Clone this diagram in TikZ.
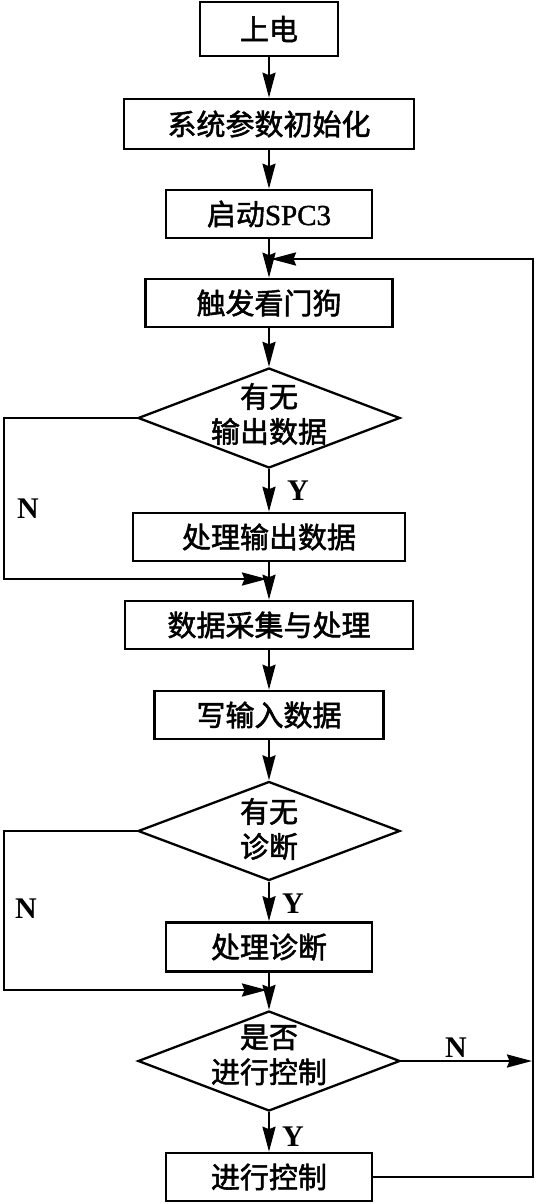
\documentclass[tikz,border=0pt]{standalone}
\usepackage{fontspec}
\setmainfont{Liberation Serif}
\newfontfamily\cjk{Noto Sans CJK SC}[FakeBold=1.8]
\newfontfamily\lat{Liberation Serif}[FakeBold=1.5]
\usetikzlibrary{arrows.meta, positioning, shapes.geometric}

\begin{document}
\begin{tikzpicture}[x=1pt, y=-1pt,
  box/.style={draw, line width=2.6pt, minimum height=48pt, inner sep=0pt, font=\cjk\fontsize{29}{35}\selectfont},
  decision/.style={draw, diamond, line width=2.3pt, inner sep=0pt, minimum width=262pt, minimum height=99pt},
  dtext/.style={align=center, inner sep=0pt, font=\cjk\fontsize{29}{35}\selectfont},
  yn/.style={font=\bfseries\fontsize{30}{30}\selectfont, inner sep=0pt},
  arr/.style={-{Stealth[length=25pt, width=13pt, inset=2.5pt]}, line width=2.3pt}]
  \useasboundingbox (0,0) rectangle (537,1204);

  % Main column of boxes
  \node[box, minimum width=138pt, minimum height=54pt] (pwr) at (269,29) {上电};
  \node[box, minimum width=290pt, minimum height=50pt] (init) at (269,124) {系统参数初始化};
  \node[box, minimum width=206pt] (spc) at (269,214) {启动{\lat SPC3}};
  \node[box, minimum width=247pt] (dog) at (269,303) {触发看门狗};

  \node[decision, minimum height=100pt] (outq) at (269,418) {};
  \node[dtext] (outqt) at (269,414) {有无\\输出数据};
  \node[box, minimum width=272pt] (outp) at (269,537) {处理输出数据};
  \node[box, minimum width=288pt] (acq) at (269,625) {数据采集与处理};
  \node[box, minimum width=229pt] (wr) at (269,715) {写输入数据};

  \node[decision] (diagq) at (269,831) {};
  \node[dtext] (diagqt) at (269,829) {有无\\诊断};
  \node[box, minimum width=206pt, minimum height=49pt] (diagp) at (269,947) {处理诊断};

  \node[decision, minimum height=100pt] (ctlq) at (269,1061) {};
  \node[dtext] (ctlqt) at (269,1055) {是否\\进行控制};
  \node[box, minimum width=206pt] (ctl) at (269,1177) {进行控制};

  % Y / N labels
  \node[yn] (y1) at (298,491) {Y};
  \node[yn] (n1) at (28,509) {N};
  \node[yn] (y2) at (293,904) {Y};
  \node[yn] (n2) at (26,909) {N};
  \node[yn] (n3) at (456,1048) {N};
  \node[yn] (y3) at (293,1137) {Y};

  % Helper points
  \coordinate (loopin) at (271,259);
  \coordinate (rtop) at (533,259);
  \coordinate (rmid) at (532,1061);
  \coordinate (lft1) at (4,579);
  \coordinate (merge1) at (267,579);
  \coordinate (lft2) at (4,990);
  \coordinate (merge2) at (267,990);

  % Arrows down the main column
  \draw[arr] (pwr) -- (init);
  \draw[arr] (init) -- (spc);
  \draw[arr] (spc) -- (dog);
  \draw[arr] (dog) -- (outq);
  \draw[arr] (outq) -- (outp);
  \draw[arr] (outp) -- (acq);
  \draw[arr] (acq) -- (wr);
  \draw[arr] (wr) -- (diagq);
  \draw[arr] (diagq) -- (diagp);
  \draw[arr] (diagp) -- (ctlq);
  \draw[arr] (ctlq) -- (ctl);

  % Bypass and loop lines
  \draw[arr] (outq.west) -| (lft1) -- (merge1);
  \draw[arr] (diagq.west) -| (lft2) -- (merge2);
  \draw[arr] (ctlq.east) -- (rmid);
  \draw[arr] (ctl.east) -| (rtop) -- (loopin);
\end{tikzpicture}
\end{document}
